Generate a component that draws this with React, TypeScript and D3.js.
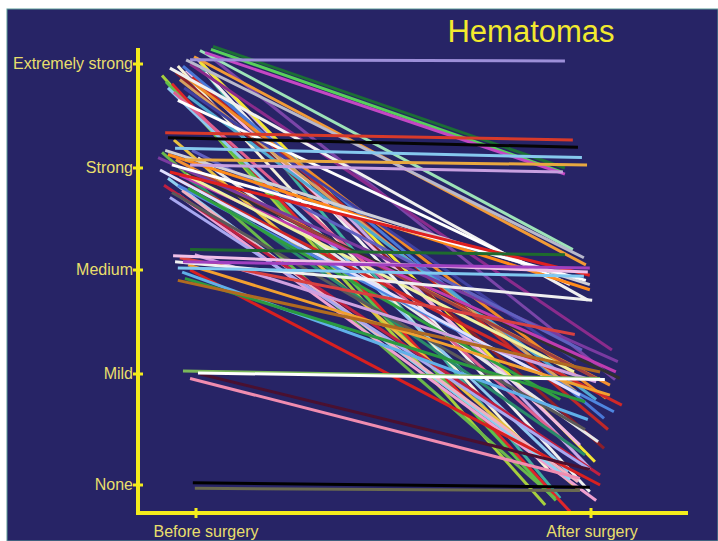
import * as d3 from "d3";

// pain score: 0 = None ... 4 = Extremely strong
const levels = ["None", "Mild", "Medium", "Strong", "Extremely strong"];
const periods = ["Before surgery", "After surgery"];

// per-patient scores before / after
const before = [
  4.04, 4.17, 4.14, 4.11, 4.13, 4.07, 4.04, 4.02, 3.98, 3.89, 3.83, 3.77, 3.81, 3.92, 3.9, 3.94,
  4.0, 4.06, 3.98, 3.96, 4.09, 3.85, 3.73, 3.69, 3.65,
  3.34, 3.29, 3.19, 3.08, 3.03, 3.1, 3.15, 3.17, 3.13, 3.03, 2.96, 2.9, 2.83, 2.76, 2.9, 2.93,
  2.98, 2.98, 3.08, 2.78, 2.88, 2.93, 2.98, 2.71, 2.83, 2.8, 2.74, 3.17, 3.1, 3.27,
  2.2, 2.14, 2.08, 2.02, 1.98, 2.0, 1.9, 1.92, 2.08, 2.15, 2.12, 2.05,
  1.03, 1.01, 1.0, 0.96,
  0.02, -0.03,
  3.98, 3.92, 3.77, 3.87,
];
const after = [
  4.03, 3.0, 2.96, 2.94, 2.2, 2.05, 2.12, 0.21, 0.14, -0.18, -0.14, 0.12, -0.24, 0.33, 0.78, 0.36,
  1.23, 0.15, 0.6, 1.71, 0.95, 0.84, 0.41, 0.77, 1.86,
  3.27, 3.2, 3.1, 3.03, 2.96, 1.12, -0.12, 1.86, 1.81, 1.9, 1.95, 0.72, 0.66, 0.5, 0.05, 1.02,
  0.96, 0.81, 0.9, 0.03, 0.27, 1.02, 0.96, 0.14, 0.09, 0.77, -0.14, 1.23, 0.39, -0.05,
  2.15, 1.98, 2.02, 1.94, 0.59, 0.0, 1.02, 0.75, 1.71, 0.93, 1.38, 0.81,
  0.96, 0.95, 0.14, 0.06,
  -0.02, -0.05,
  -0.12, -0.06, 1.13, 0.5,
];
// when each rating was taken, relative to the period mark (0 = before, 1 = after)
const beforeAt = [
  -0.015, 0.043, 0.038, 0.023, 0.01, -0.005, -0.025, 0.01, -0.046, -0.086, -0.076, -0.071, -0.061,
  -0.051, -0.035, -0.025, -0.015, 0.0, -0.033, -0.066, 0.03, -0.041, -0.056, -0.02, -0.046,
  -0.078, -0.071, -0.053, -0.028, -0.015, -0.096, -0.086, -0.078, -0.071, -0.061, -0.066, -0.053,
  -0.046, -0.061, -0.071, -0.041, -0.028, -0.091, -0.051, -0.035, -0.015, -0.025, -0.005, -0.066,
  -0.081, -0.02, -0.046, -0.01, 0.005, -0.056,
  -0.015, -0.058, -0.033, -0.046, -0.035, -0.015, -0.046, -0.028, -0.053, -0.003, -0.041, -0.02,
  -0.033, 0.005, 0.01, -0.015,
  -0.008, -0.003,
  0.01, 0.023, -0.03, -0.01,
];
const afterAt = [
  0.934, 0.934, 0.927, 0.934, 0.954, 0.987, 0.982, 1.01, 0.891, 0.884, 0.911, 0.942, 0.947, 1.033,
  1.038, 0.972, 1.053, 0.997, 1.033, 0.992, 1.061, 0.962, 0.927, 1.013, 0.947,
  0.954, 0.967, 0.977, 0.99, 0.929, 1.068, 0.909, 0.997, 0.997, 0.987, 0.997, 1.078, 1.058, 0.985,
  0.947, 1.063, 1.073, 0.972, 1.048, 0.967, 0.985, 0.957, 1.013, 0.997, 1.023, 0.922, 1.013, 0.977,
  1.018, 0.972,
  0.934, 0.992, 0.997, 0.982, 0.992, 1.023, 1.023, 0.985, 1.003, 1.013, 0.959, 1.048,
  1.023, 1.035, 0.997, 0.972,
  0.997, 0.972,
  0.922, 0.997, 0.962, 1.043,
];

const lineColors = [
  "#9d8fd9", "#1b6e35", "#57d05a", "#c447c4", "#9de3b8", "#f29a36", "#b8b8cc", "#f4e635", "#f6f2d8",
  "#a6cf3e", "#5fbf4a", "#8ec8f0", "#e0262b", "#8e1f2a", "#f08a28", "#f4b8e0", "#8a2b8c", "#c8a8e8",
  "#4a78d8", "#f0f0f0", "#7a45a8", "#d8a060", "#e06090", "#50a8d0", "#ffffff",
  "#d83a2a", "#050505", "#86c8ee", "#e8a840", "#c8a0e0", "#7a3aa0", "#6ab84a", "#d0d0d8", "#ff8a1a",
  "#ffffff", "#e02020", "#d02828", "#4f86e0", "#5a5a5a", "#90d0f0", "#c03cb0", "#303030", "#e0e0ff",
  "#f29030", "#f0b0c0", "#2a8a6a", "#f0f0a0", "#a04040", "#a8a8f0", "#c02040", "#30a040", "#f0a0d0",
  "#6060c0", "#e8e8e8", "#e8c040",
  "#1e6a2e", "#f0c0e8", "#a040c0", "#80c8f0", "#60b0e8", "#d82020", "#b06a20", "#2a9a40", "#f0f0f0",
  "#d0a0e0", "#d84040", "#f2a030",
  "#7ab85a", "#ffffff", "#4a1030", "#f08cb0",
  "#000000", "#6a6a50",
  "#40b0a0", "#f0f0f0", "#4040a0", "#c02828",
];

const W = 718;
const H = 541;
const BG = "#272466";
const AXIS = "#f4ec1c";
const LABEL = "#e9df6c";

export default function App() {
  const y = d3.scaleLinear().domain([0, 1, 2, 3, 4]).range([485, 374, 270, 168, 64]);
  const x = d3.scaleLinear().domain([0, 1]).range([196, 591]);
  const axisX = 138;
  const axisY = 513;

  const lineGen = d3
    .line<[number, number]>()
    .x((d) => x(d[0]))
    .y((d) => y(d[1]));

  // steep lines first, flat ones on top
  const order = d3.range(before.length).sort(
    (a, b) => Math.abs(before[b] - after[b]) - Math.abs(before[a] - after[a])
  );

  return (
    <svg
      width={W}
      height={H}
      style={{ position: "absolute", left: 0, top: 0, fontFamily: "Liberation Sans, Arial, sans-serif" }}
    >
      <rect x={0} y={0} width={W} height={H} fill="#ffffff" />
      <rect x={7} y={9} width={W - 7} height={H - 9} fill={BG} stroke="#5c9c98" strokeWidth={1} />

      <text x={531} y={42} textAnchor="middle" fill="#f2ea2e" fontSize={31}>
        Hematomas
      </text>

      <g>
        {order.map((i) => (
          <path
            key={i}
            d={lineGen([
              [beforeAt[i], before[i]],
              [afterAt[i], after[i]],
            ]) || ""}
            stroke={lineColors[i]}
            strokeWidth={3}
            fill="none"
          />
        ))}
      </g>

      {/* y axis */}
      <line x1={axisX} x2={axisX} y1={48} y2={axisY + 2} stroke={AXIS} strokeWidth={4} />
      {levels.map((l, i) => (
        <g key={l}>
          <line x1={axisX - 5} x2={axisX + 5} y1={y(i)} y2={y(i)} stroke={AXIS} strokeWidth={3} />
          <text x={axisX - 5} y={y(i) + 5} textAnchor="end" fill={LABEL} fontSize={16}>
            {l}
          </text>
        </g>
      ))}

      {/* x axis */}
      <line x1={axisX - 2} x2={688} y1={axisY} y2={axisY} stroke={AXIS} strokeWidth={4} />
      {periods.map((p, i) => (
        <g key={p}>
          <line x1={x(i)} x2={x(i)} y1={axisY - 5} y2={axisY + 5} stroke={AXIS} strokeWidth={3} />
          <text x={x(i) + (i === 0 ? 10 : 1)} y={537} textAnchor="middle" fill={LABEL} fontSize={16}>
            {p}
          </text>
        </g>
      ))}
    </svg>
  );
}
